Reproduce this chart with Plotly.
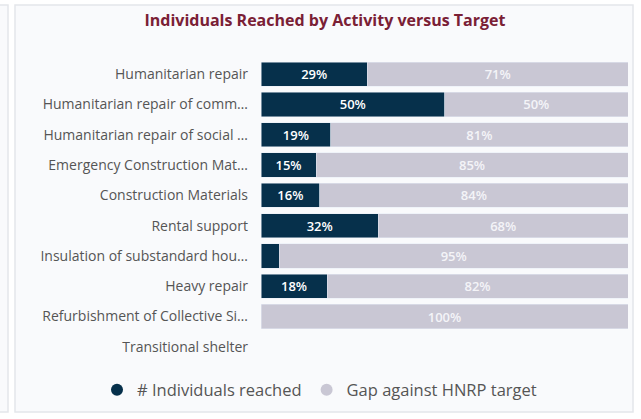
import plotly.graph_objects as go

categories = [
    "Humanitarian repair",
    "Humanitarian repair of comm…",
    "Humanitarian repair of social …",
    "Emergency Construction Mat…",
    "Construction Materials",
    "Rental support",
    "Insulation of substandard hou…",
    "Heavy repair",
    "Refurbishment of Collective Si…",
    "Transitional shelter",
]
reached = [29, 50, 19, 15, 16, 32, 5, 18, 0, None]
gap = [71, 50, 81, 85, 84, 68, 95, 82, 100, None]

DARK = "#06304b"
GREY = "#c9c7d4"

def labels(vals, minv=10):
    return [f"{v}%" if (v is not None and v >= minv) else "" for v in vals]

fig = go.Figure()
fig.add_trace(go.Bar(
    y=categories, x=reached, orientation="h", marker_color=DARK,
    text=labels(reached), textposition="inside", insidetextanchor="middle",
    textfont=dict(color="white", size=13, family="Open Sans", weight=600),
    showlegend=False, width=0.8, hoverinfo="skip",
))
fig.add_trace(go.Bar(
    y=categories, x=gap, orientation="h", marker_color=GREY,
    text=labels(gap), textposition="inside", insidetextanchor="middle",
    textfont=dict(color="#f4f4f8", size=13, family="Open Sans", weight=600),
    showlegend=False, width=0.8, hoverinfo="skip",
))
# legend entries with circular markers
fig.add_trace(go.Scatter(x=[None], y=[None], mode="markers", name="# Individuals reached",
                         marker=dict(color=DARK, size=14, symbol="circle")))
fig.add_trace(go.Scatter(x=[None], y=[None], mode="markers", name="Gap against HNRP target",
                         marker=dict(color=GREY, size=14, symbol="circle")))

W, H = 641, 419
L, R, T, B = 261, 13, 59, 57
pw, ph = W - L - R, H - T - B

def px_x(x):
    return (x - L) / pw

def px_y(y):
    return (H - B - y) / ph

shapes = [
    dict(type="rect", xref="paper", yref="paper", layer="below",
         x0=px_x(15), x1=px_x(633), y0=px_y(412), y1=px_y(5),
         fillcolor="#f9fafc", line=dict(color="#e4e6ea", width=1.5)),
    dict(type="rect", xref="paper", yref="paper", layer="below",
         x0=px_x(-20), x1=px_x(8), y0=px_y(412), y1=px_y(5),
         fillcolor="#f9fafc", line=dict(color="#e4e6ea", width=1.5)),
]

fig.update_layout(
    width=W, height=H,
    margin=dict(l=L, r=R, t=T, b=B, autoexpand=False),
    barmode="stack",
    paper_bgcolor="white",
    plot_bgcolor="rgba(0,0,0,0)",
    font=dict(family="Open Sans", color="#555555"),
    title=dict(text="<b>Individuals Reached by Activity versus Target</b>",
               x=0.507, xanchor="center", y=1 - 20 / H, yanchor="middle",
               font=dict(size=16, color="#7a2035", family="Open Sans")),
    xaxis=dict(range=[0, 100], visible=False, fixedrange=True),
    yaxis=dict(categoryorder="array", categoryarray=categories, autorange="reversed",
               showgrid=False, zeroline=False, showline=False, ticks="",
               tickfont=dict(size=14, color="#555555"), ticklabelstandoff=12,
               fixedrange=True),
    legend=dict(orientation="h",
                x=px_x(97), xanchor="left", y=px_y(390), yanchor="middle",
                font=dict(size=16.5, color="#555555"), bgcolor="rgba(0,0,0,0)",
                traceorder="normal", itemsizing="constant"),
    shapes=shapes,
    showlegend=True,
)

fig.write_html("out.html", config={"displayModeBar": False},
               post_script="document.body.style.margin='0px';")
